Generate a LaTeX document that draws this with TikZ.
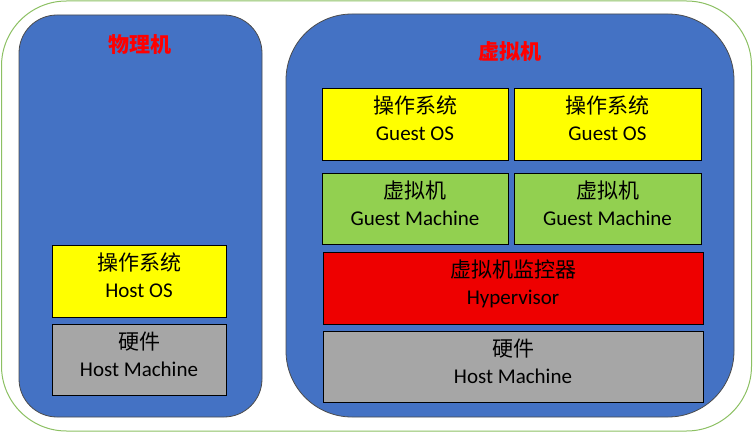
\documentclass[tikz,border=0pt]{standalone}
\usepackage{fontspec}
\setmainfont{Carlito}
\newfontfamily\cjk{Noto Sans CJK SC}
\usepackage{tikz}
\usetikzlibrary{positioning}
\definecolor{panelblue}{HTML}{4472C4}
\definecolor{osyellow}{HTML}{FFFF00}
\definecolor{vmgreen}{HTML}{92D050}
\definecolor{hypred}{HTML}{EE0000}
\definecolor{hwgray}{HTML}{A6A6A6}
\definecolor{frame}{HTML}{8CC063}
\tikzset{
  layer/.style={rectangle, draw=black, line width=0.8pt, align=center, text=black, font=\fontsize{21}{27}\selectfont, inner sep=0pt, text depth=11pt},
  panel/.style={rectangle, draw=black!70, line width=0.8pt, fill=panelblue, inner sep=0pt},
  ttl/.style={text=red, font=\cjk\bfseries\fontsize{21}{25}\selectfont, inner sep=0pt}
}

\begin{document}
\begin{tikzpicture}[x=1pt, y=-1pt]
    \useasboundingbox (0,0) rectangle (754,433);
    \node[rectangle, draw=frame, line width=1pt, rounded corners=65pt, minimum width=750pt, minimum height=430pt] (outer) at (376.5, 216) {};

    % physical machine
    \node[panel, rounded corners=38pt, minimum width=243pt, minimum height=402pt] (phys) at (140.5, 216) {};
    \node[ttl] (physttl) at (140, 45) {物理机};
    \node[layer, fill=osyellow, minimum width=174pt, minimum height=72pt] (hostos) at (139, 281) {{\cjk 操作系统}\\Host OS};
    \node[layer, fill=hwgray, minimum width=174pt, minimum height=71pt] (hosthw) at (139, 359.5) {{\cjk 硬件}\\Host Machine};

    % virtual machine
    \node[panel, rounded corners=66pt, minimum width=448pt, minimum height=403pt] (virt) at (510, 215.5) {};
    \node[ttl] (virtttl) at (510, 52) {虚拟机};
    \node[layer, fill=osyellow, minimum width=186pt, minimum height=72pt] (gosa) at (415, 124) {{\cjk 操作系统}\\Guest OS};
    \node[layer, fill=osyellow, minimum width=187pt, minimum height=72pt] (gosb) at (607.5, 124) {{\cjk 操作系统}\\Guest OS};
    \node[layer, fill=vmgreen, minimum width=186pt, minimum height=71pt] (gma) at (415, 208.5) {{\cjk 虚拟机}\\Guest Machine};
    \node[layer, fill=vmgreen, minimum width=187pt, minimum height=71pt] (gmb) at (607.5, 208.5) {{\cjk 虚拟机}\\Guest Machine};
    \node[layer, fill=hypred, minimum width=380pt, minimum height=72pt] (hyp) at (513, 288) {{\cjk 虚拟机监控器}\\Hypervisor};
    \node[layer, fill=hwgray, minimum width=380pt, minimum height=71pt] (virthw) at (513, 366.5) {{\cjk 硬件}\\Host Machine};
\end{tikzpicture}
\end{document}
